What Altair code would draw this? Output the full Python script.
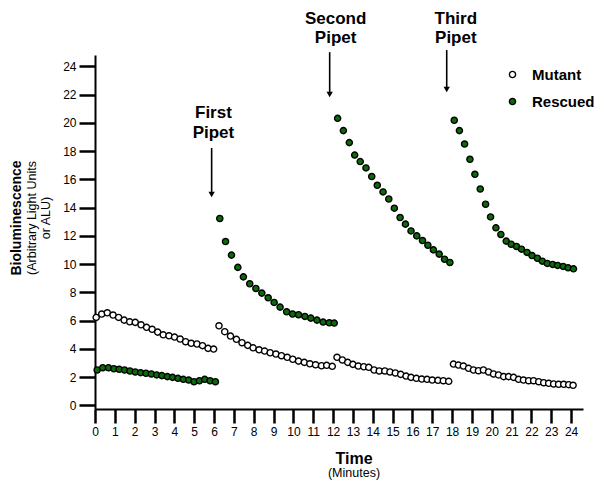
import altair as alt
import pandas as pd

FONT = "Liberation Sans"

# ---------------- data ----------------
mutant_t = [
    [0.06, 0.34, 0.62, 0.91, 1.19, 1.47, 1.75, 2.03, 2.32, 2.60, 2.88, 3.16, 3.44, 3.73, 4.01, 4.29, 4.57, 4.85, 5.14, 5.42, 5.70, 5.98],
    [6.25, 6.54, 6.83, 7.13, 7.41, 7.70, 7.97, 8.27, 8.55, 8.83, 9.12, 9.40, 9.69, 9.97, 10.26, 10.55, 10.83, 11.12, 11.42, 11.68, 11.96],
    [12.20, 12.47, 12.74, 13.00, 13.27, 13.55, 13.80, 14.07, 14.33, 14.61, 14.87, 15.14, 15.41, 15.68, 15.93, 16.20, 16.47, 16.74, 17.00, 17.29, 17.56, 17.83],
    [18.07, 18.32, 18.57, 18.83, 19.08, 19.33, 19.58, 19.84, 20.09, 20.34, 20.60, 20.85, 21.10, 21.35, 21.60, 21.86, 22.11, 22.37, 22.62, 22.87, 23.12, 23.37, 23.63, 23.88, 24.10],
]
mutant_v = [
    [6.23, 6.47, 6.56, 6.40, 6.23, 6.04, 5.92, 5.88, 5.71, 5.53, 5.39, 5.19, 5.00, 4.93, 4.84, 4.70, 4.51, 4.40, 4.35, 4.23, 4.04, 3.99],
    [5.64, 5.22, 4.91, 4.68, 4.44, 4.25, 4.08, 3.94, 3.85, 3.73, 3.64, 3.52, 3.41, 3.27, 3.14, 3.05, 2.95, 2.88, 2.81, 2.84, 2.77],
    [3.41, 3.22, 3.05, 2.91, 2.79, 2.74, 2.70, 2.51, 2.44, 2.44, 2.37, 2.30, 2.20, 2.08, 1.99, 1.92, 1.87, 1.85, 1.80, 1.78, 1.75, 1.71],
    [2.93, 2.86, 2.79, 2.63, 2.51, 2.46, 2.51, 2.37, 2.23, 2.16, 2.04, 2.04, 1.99, 1.85, 1.80, 1.75, 1.75, 1.68, 1.61, 1.57, 1.52, 1.50, 1.50, 1.47, 1.43],
]
rescued_t = [
    [0.11, 0.39, 0.68, 0.95, 1.22, 1.49, 1.76, 2.03, 2.30, 2.57, 2.84, 3.11, 3.37, 3.65, 3.91, 4.18, 4.45, 4.72, 4.99, 5.26, 5.53, 5.80, 6.07],
    [6.29, 6.58, 6.88, 7.20, 7.48, 7.80, 8.11, 8.41, 8.73, 9.03, 9.33, 9.66, 9.96, 10.26, 10.58, 10.88, 11.19, 11.50, 11.81, 12.06],
    [12.23, 12.52, 12.82, 13.09, 13.37, 13.66, 13.95, 14.23, 14.52, 14.81, 15.09, 15.38, 15.65, 15.93, 16.22, 16.51, 16.78, 17.06, 17.35, 17.62, 17.89],
    [18.11, 18.37, 18.63, 18.90, 19.15, 19.42, 19.69, 19.94, 20.21, 20.46, 20.73, 20.98, 21.25, 21.50, 21.78, 22.03, 22.30, 22.55, 22.80, 23.07, 23.32, 23.60, 23.85, 24.12],
]
rescued_v = [
    [2.51, 2.67, 2.67, 2.60, 2.56, 2.51, 2.44, 2.37, 2.32, 2.28, 2.23, 2.16, 2.11, 2.04, 1.99, 1.92, 1.85, 1.80, 1.68, 1.75, 1.85, 1.75, 1.68],
    [13.23, 11.60, 10.64, 9.77, 9.10, 8.61, 8.28, 7.95, 7.62, 7.29, 6.96, 6.63, 6.47, 6.42, 6.30, 6.18, 6.04, 5.90, 5.85, 5.83],
    [20.32, 19.45, 18.60, 17.72, 17.26, 16.81, 16.20, 15.58, 15.11, 14.61, 13.96, 13.30, 12.83, 12.35, 12.00, 11.67, 11.34, 11.01, 10.71, 10.35, 10.12],
    [20.18, 19.45, 18.50, 17.42, 16.36, 15.32, 14.24, 13.34, 12.57, 12.10, 11.63, 11.41, 11.25, 11.06, 10.83, 10.61, 10.42, 10.21, 10.05, 9.98, 9.91, 9.84, 9.74, 9.67],
]
series_names = ["Mutant", "Rescued"]
series_colors = ["#ffffff", "#0b6b0b"]

x_ticks = list(range(0, 25))
y_ticks = list(range(0, 25, 2))

ann_text = ["First", "Pipet", "Second", "Pipet", "Third", "Pipet"]
ann_x = [5.97, 5.97, 12.13, 12.13, 18.19, 18.19]
ann_y = [20.70, 19.28, 27.35, 26.01, 27.35, 26.01]

arrow_x = [5.88, 11.83, 17.73]
arrow_top = [18.22, 25.0, 25.15]
arrow_tip = [14.68, 21.76, 22.11]

# ---------------- build tables ----------------
rows = []
for name, ts, vs in (("Mutant", mutant_t, mutant_v), ("Rescued", rescued_t, rescued_v)):
    for seg, (tt, vv) in enumerate(zip(ts, vs)):
        for t, v in zip(tt, vv):
            rows.append({"time": t, "value": v, "series": name, "seg": seg})
df = pd.DataFrame(rows)

ann_df = pd.DataFrame({"x": ann_x, "y": ann_y, "text": ann_text})
arr_df = pd.DataFrame({"x": arrow_x, "y1": arrow_top, "y2": arrow_tip})
arr_df["yh"] = [t + 0.25 for t in arrow_tip]

xs = alt.Scale(domain=[0, 24.6], nice=False, zero=False)
ys = alt.Scale(domain=[-0.25, 24.8], nice=False, zero=False)

x_axis = alt.Axis(values=x_ticks, title=None, grid=False, domainColor="black", domainWidth=2,
                  tickColor="black", tickWidth=2.5, tickSize=14, labelFont=FONT, labelFontSize=12,
                  labelColor="black", labelPadding=3, labelFlush=False, labelOverlap=False,
                  labelBound=False)
y_axis = alt.Axis(values=y_ticks, title=None, grid=False, domainColor="black", domainWidth=2,
                  tickColor="black", tickWidth=2.5, tickSize=16, labelFont=FONT, labelFontSize=12,
                  labelColor="black", labelPadding=3, labelOverlap=False, labelBound=False)

points = alt.Chart(df).mark_circle(size=38, stroke="black", strokeWidth=1.4, opacity=1).encode(
    x=alt.X("time:Q", scale=xs, axis=x_axis),
    y=alt.Y("value:Q", scale=ys, axis=y_axis),
    fill=alt.Fill("series:N", scale=alt.Scale(domain=series_names, range=series_colors),
                  legend=alt.Legend(title=None, orient="none", legendX=410, legendY=12,
                                    labelFont=FONT, labelFontSize=15, labelFontWeight="bold",
                                    labelColor="black", symbolType="circle", symbolSize=38,
                                    symbolStrokeColor="black", symbolStrokeWidth=1.4,
                                    rowPadding=11, labelOffset=12, padding=0)),
)

ann = alt.Chart(ann_df).mark_text(font=FONT, fontSize=17, fontWeight="bold", align="center",
                                  baseline="middle", color="black").encode(
    x=alt.X("x:Q", scale=xs, axis=x_axis), y=alt.Y("y:Q", scale=ys, axis=y_axis), text="text:N")

arrows = alt.Chart(arr_df).mark_rule(color="black", strokeWidth=1.6).encode(
    x=alt.X("x:Q", scale=xs, axis=x_axis), y=alt.Y("y1:Q", scale=ys, axis=y_axis), y2="yh:Q")
heads = alt.Chart(arr_df).mark_point(shape="triangle-down", filled=True, color="black", size=40,
                                     opacity=1).encode(
    x=alt.X("x:Q", scale=xs, axis=x_axis), y=alt.Y("yh:Q", scale=ys, axis=y_axis))

titles_df = pd.DataFrame({"a": [0]})
def label(txt, px, py, size, weight="normal", angle=0):
    return alt.Chart(titles_df).mark_text(text=txt, font=FONT, fontSize=size, fontWeight=weight,
                                          align="center", baseline="middle", color="black",
                                          angle=angle).encode(x=alt.value(px), y=alt.value(py))

t_time = label("Time", 259, 404, 16, "bold")
t_min = label("(Minutes)", 259, 418, 12.5)
t_bio = label("Bioluminescence", -78, 163, 14, "bold", 270)
t_arb = label("(Arbitrary Light Units", -63, 163, 12.5, angle=270)
t_alu = label("or ALU)", -49, 163, 12.5, angle=270)

chart = alt.layer(points, arrows, heads, ann, t_time, t_min, t_bio, t_arb, t_alu).properties(
    width=488, height=354,
    padding={"left": 87, "top": 47, "right": 14, "bottom": 71},
    autosize=alt.AutoSizeParams(type="none"),
).configure_view(strokeWidth=0).configure_axis(labelOverlap=False)

chart.save("out.html", embed_options={"renderer": "svg", "actions": False})
